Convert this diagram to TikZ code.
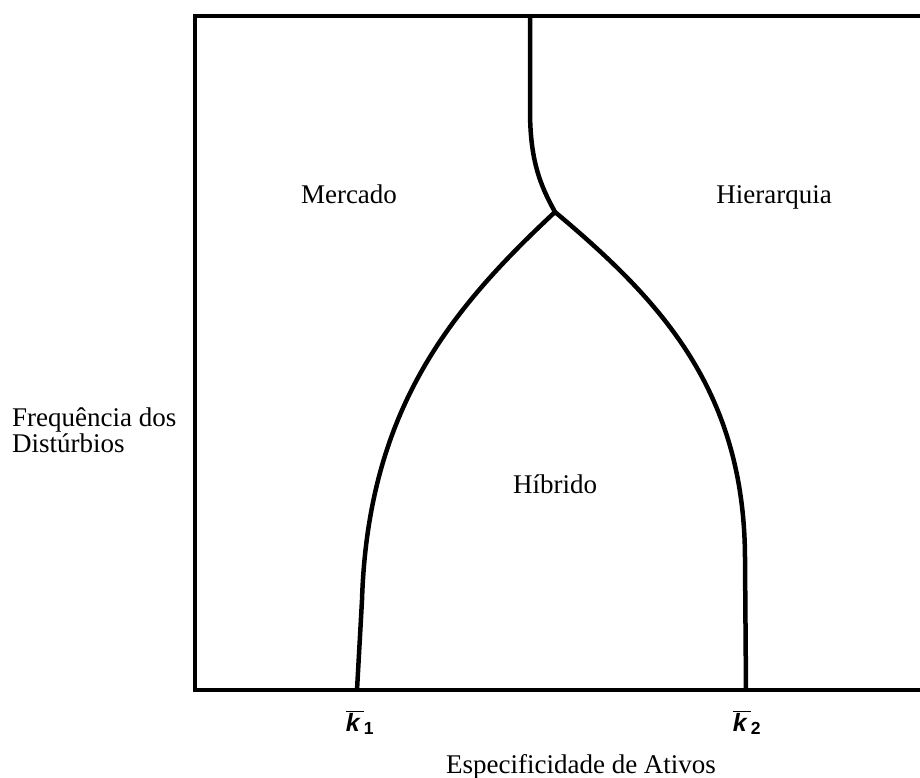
\documentclass[tikz,border=0pt]{standalone}
\usepackage{fontspec}
\setmainfont{Liberation Serif}
\newfontfamily\ksans{Liberation Sans}
\usetikzlibrary{positioning}
\tikzset{
  region/.style={font=\fontsize{27}{26}\selectfont, inner sep=0pt, anchor=base},
  kmark/.style={font=\fontsize{25}{25}\ksans\bfseries\itshape, inner sep=0pt, anchor=base},
  frontier/.style={line width=4.5pt, line join=round}
}
\begin{document}
\begin{tikzpicture}[x=1pt,y=-1pt]
  \useasboundingbox (0,0) rectangle (920,778);
  % axes box, open at the right
  \draw[line width=4.5pt] (920,16)--(195,16)--(195,690)--(920,690);
  % frontier between the governance forms
  \coordinate (top) at (530,16);
  \coordinate (junc) at (555,212);
  \coordinate (k1) at (357,690);
  \coordinate (k2) at (746,690);
  \draw[frontier] (top)--(530,110) .. controls (530,160) and (540,185) .. (junc);
  \draw[frontier] (junc) .. controls (450,310) and (368,410) .. (362,600)--(k1);
  \draw[frontier] (junc) .. controls (660,300) and (745,390) .. (745,560)--(k2);
  \node[region] (mercado) at (349,203) {Mercado};
  \node[region] (hierarquia) at (774,203) {Hierarquia};
  \node[region] (hibrido) at (555,493) {Híbrido};
  \node[region, anchor=west, align=left] (freq) at (12,430) {Frequência dos\\Distúrbios};
  \node[region] (espec) at (581,773) {Especificidade de Ativos};
  \node[kmark] (k1lab) at (360,731) {$\overline{\mbox{k\,}}$\textsubscript{\upshape 1}};
  \node[kmark] (k2lab) at (747,731) {$\overline{\mbox{k\,}}$\textsubscript{\upshape 2}};
\end{tikzpicture}
\end{document}
